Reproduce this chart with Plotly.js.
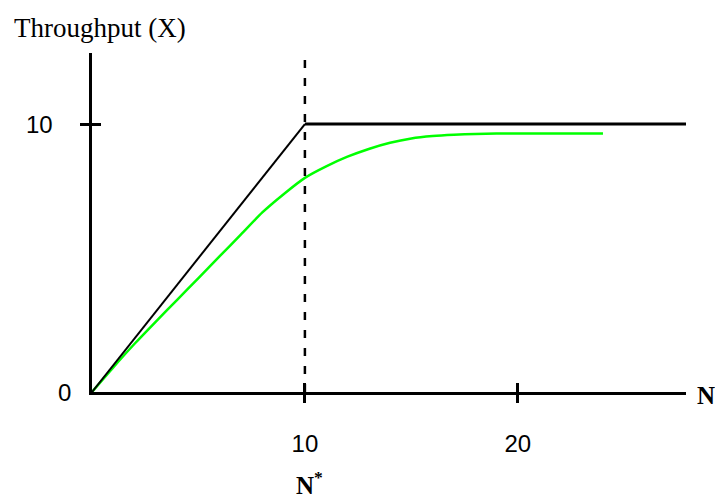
<!DOCTYPE html>
<html>
<head>
<meta charset="utf-8">
<script src="https://cdn.plot.ly/plotly-3.0.1.min.js"></script>
<style>html,body{margin:0;padding:0;background:#fff;}#chart{width:715px;height:498px;}</style>
</head>
<body>
<div id="chart"></div>
<script>
// Data
const boundN = [0, 10];
const boundX = [0, 10];
const flatN = [10, 27.9];
const flatX = [10, 10];
const nStar = 10;
const dashY = [0, 12.9];
const greenN = [0, 1, 2, 3, 4, 5, 6, 7, 8, 9, 10, 11, 12, 13, 14, 15, 16, 17, 18, 19, 20, 21, 22, 23, 24];
const greenX = [0, 0.92, 1.8, 2.63, 3.44, 4.25, 5.07, 5.88, 6.7, 7.38, 7.99, 8.42, 8.78, 9.07, 9.3, 9.46, 9.55, 9.6, 9.63, 9.65, 9.65, 9.65, 9.65, 9.65, 9.65];
const xTickVals = [10, 20];
const xTickText = ["10", "20"];
const yTickVals = [0, 10];
const yTickText = ["0", "10"];
const yAxisTitle = "Throughput (X)";
const xAxisTitle = "N";
const nStarLabel = "N<sup>*</sup>";

const traces = [
  {x: greenN, y: greenX, mode: 'lines', line: {color: '#00ff00', width: 2.5, shape: 'spline', smoothing: 0.6}, hoverinfo: 'skip'},
  {x: boundN, y: boundX, mode: 'lines', line: {color: '#000', width: 2}, hoverinfo: 'skip'},
  {x: flatN, y: flatX, mode: 'lines', line: {color: '#000', width: 3}, hoverinfo: 'skip'},
  {x: [nStar, nStar], y: dashY, mode: 'lines', line: {color: '#000', width: 2.5, dash: '8px,10px'}, hoverinfo: 'skip', cliponaxis: false},
  {x: [], y: [], xaxis: 'x2', yaxis: 'y2', hoverinfo: 'skip'}
];

const tickFont = {family: 'Liberation Sans, Arial, sans-serif', size: 24, color: '#000'};
const yShift = {"0": -19, "10": -37};

const annotations = yTickVals.map((v, i) => ({
  xref: 'paper', yref: 'y', x: 0, y: v, text: yTickText[i], showarrow: false,
  xanchor: 'right', yanchor: 'middle', xshift: yShift[yTickText[i]], font: tickFont
}));
annotations.push({xref: 'paper', yref: 'paper', x: 0, y: 1, xanchor: 'left', yanchor: 'bottom',
  xshift: -80, yshift: 8, text: yAxisTitle, showarrow: false,
  font: {family: 'Liberation Serif, serif', size: 27, color: '#000'}});
annotations.push({xref: 'paper', yref: 'y', x: 1, y: 0, xanchor: 'left', yanchor: 'middle',
  xshift: 9, yshift: -3, text: xAxisTitle, showarrow: false,
  font: {family: 'Liberation Serif, serif', size: 25, color: '#000', weight: 'bold'}});
annotations.push({xref: 'x', yref: 'paper', x: nStar, y: 0, xanchor: 'center', yanchor: 'middle',
  yshift: -91, xshift: 5, text: nStarLabel, showarrow: false,
  font: {family: 'Liberation Serif, serif', size: 25, color: '#000', weight: 'bold'}});

const layout = {
  width: 715, height: 498,
  margin: {l: 92, r: 29, t: 53, b: 106},
  paper_bgcolor: '#fff', plot_bgcolor: '#fff',
  showlegend: false,
  xaxis: {range: [0, 27.9], showline: true, linewidth: 3, linecolor: '#000', showgrid: false, zeroline: false,
    ticks: 'outside', ticklen: 8, tickwidth: 3, tickcolor: '#000', tickvals: xTickVals, ticktext: xTickText,
    tickfont: tickFont, ticklabelstandoff: 20, fixedrange: true},
  yaxis: {range: [0, 12.65], showline: true, linewidth: 3, linecolor: '#000', showgrid: false, zeroline: false,
    ticks: 'outside', ticklen: 9, tickwidth: 3, tickcolor: '#000', tickvals: [10], showticklabels: false, fixedrange: true},
  xaxis2: {range: [0, 27.9], overlaying: 'x', anchor: 'y2', showline: false, showgrid: false, zeroline: false,
    ticks: 'inside', ticklen: 9, tickwidth: 3, tickcolor: '#000', tickvals: xTickVals, showticklabels: false, fixedrange: true},
  yaxis2: {range: [0, 12.65], overlaying: 'y', anchor: 'x2', showline: false, showgrid: false, zeroline: false,
    ticks: 'inside', ticklen: 9, tickwidth: 3, tickcolor: '#000', tickvals: [10], showticklabels: false, fixedrange: true},
  annotations: annotations
};

Plotly.newPlot('chart', traces, layout, {displayModeBar: false, staticPlot: true});
</script>
</body>
</html>
